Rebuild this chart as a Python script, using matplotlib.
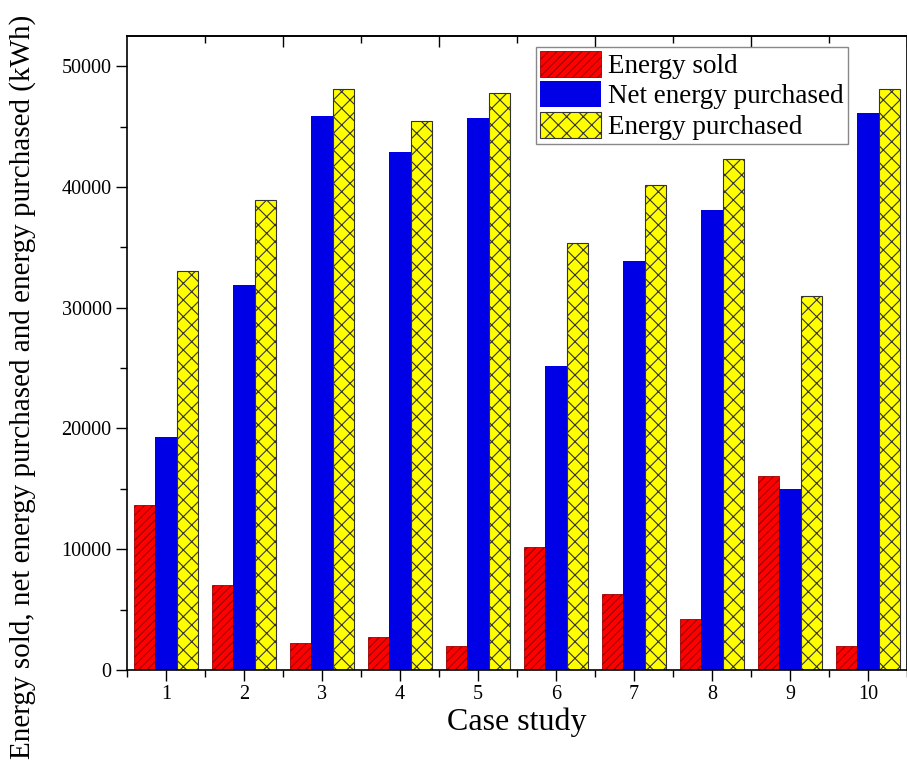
import matplotlib
matplotlib.use("Agg")
import matplotlib.pyplot as plt
from matplotlib.ticker import MultipleLocator, FixedLocator
import numpy as np

cases = [1, 2, 3, 4, 5, 6, 7, 8, 9, 10]
energy_sold = [13700, 7000, 2200, 2700, 2000, 10200, 6300, 4200, 16100, 2000]
net_purchased = [19300, 31900, 45900, 42900, 45700, 25200, 33900, 38100, 15000, 46100]
energy_purchased = [33000, 38900, 48100, 45500, 47800, 35400, 40200, 42300, 31000, 48100]

plt.rcParams['font.family'] = ['Liberation Serif', 'DejaVu Serif']
plt.rcParams['hatch.linewidth'] = 0.8

fig = plt.figure(figsize=(9.07, 7.76), dpi=100)
ax = fig.add_axes([127/907, 106/776, 780/907, 634/776])

x = np.array(cases, dtype=float)
w = 0.27
ax.bar(x - w, energy_sold, w, color='#ff0000', edgecolor='#990000', linewidth=0.6,
       hatch='////', label='Energy sold')
ax.bar(x, net_purchased, w, color='#0000e6', edgecolor='#0000e6', linewidth=0.0,
       label='Net energy purchased')
ax.bar(x + w, energy_purchased, w, color='#ffff00', edgecolor='#333333', linewidth=0.8,
       hatch='xx', label='Energy purchased')

ax.set_xlim(0.5, 10.5)
ax.set_ylim(0, 52500)
ax.set_xticks(cases)
ax.xaxis.set_minor_locator(FixedLocator(np.arange(0.5, 11, 1.0)))
ax.yaxis.set_major_locator(MultipleLocator(10000))
ax.yaxis.set_minor_locator(MultipleLocator(5000))
ax.tick_params(axis='both', which='major', direction='out', length=8, width=1.0,
               labelsize=14.5, top=False, right=False, pad=3)
ax.tick_params(axis='both', which='minor', direction='out', length=5, width=1.0,
               top=False, right=False)
for s in ax.spines.values():
    s.set_linewidth(1.2)

sec = ax.secondary_xaxis('top')
sec.set_xticks([2.5, 4.5, 6.5, 8.5, 10.5])
sec.xaxis.set_minor_locator(FixedLocator([1.5, 3.5, 5.5, 7.5, 9.5]))
sec.tick_params(axis='x', which='major', direction='in', length=8, width=1.0, labeltop=False)
sec.tick_params(axis='x', which='minor', direction='in', length=5, width=1.0)
sec.spines['top'].set_linewidth(1.2)

ax.set_xlabel('Case study', fontsize=23, labelpad=2)
ax.set_ylabel('Energy sold, net energy purchased and energy purchased (kWh)', fontsize=21)
ax.yaxis.set_label_coords(-0.117, 0.446)

leg = ax.legend(loc='upper right', bbox_to_anchor=(0.924, 0.983), borderaxespad=0,
                fontsize=19.5, handlelength=2.25, handleheight=1.1, labelspacing=0.08,
                borderpad=0.15, handletextpad=0.25, fancybox=False, framealpha=1,
                edgecolor='#888888')
leg.get_frame().set_linewidth(1.0)

fig.savefig('out.png', dpi=100)
